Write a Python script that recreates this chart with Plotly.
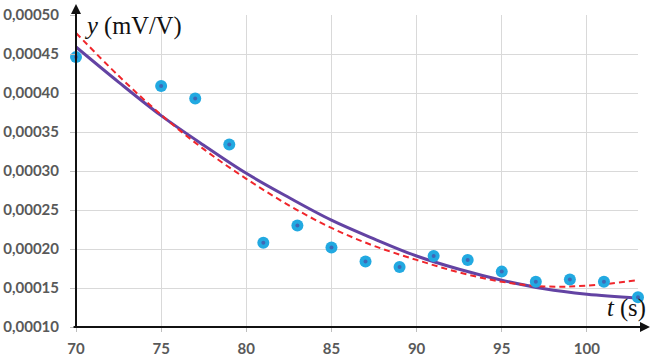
import plotly.graph_objects as go

# Measured data points
t_data = [70, 75, 77, 79, 81, 83, 85, 87, 89, 91, 93, 95, 97, 99, 101, 103]
y_data = [0.000446, 0.000409, 0.000393, 0.000334, 0.000208, 0.000230, 0.000202,
          0.000184, 0.000177, 0.000191, 0.000186, 0.000171, 0.000158, 0.000161,
          0.000158, 0.000138]

# Trend line (solid purple)
t_fit = [70, 72.5, 75, 77.5, 80, 82.5, 85, 87.5, 90, 92.5, 95, 97.5, 100, 103]
y_fit_solid = [0.000459, 0.000414, 0.000371, 0.000333, 0.000297, 0.000266, 0.000237,
               0.000213, 0.000191, 0.000174, 0.000160, 0.000149, 0.000142, 0.000137]
# Trend line (dashed red)
y_fit_dash = [0.000477, 0.000422, 0.000372, 0.000328, 0.000290, 0.000256, 0.000227,
              0.000204, 0.000186, 0.000170, 0.000158, 0.000152, 0.000153, 0.000160]

x_ticks = [70, 75, 80, 85, 90, 95, 100]
x_ticktext = ["70", "75", "80", "85", "90", "95", "100"]
y_ticks = [0.00010, 0.00015, 0.00020, 0.00025, 0.00030, 0.00035, 0.00040, 0.00045, 0.00050]
y_ticktext = ["0,00010", "0,00015", "0,00020", "0,00025", "0,00030",
              "0,00035", "0,00040", "0,00045", "0,00050"]

fig = go.Figure()
fig.add_trace(go.Scatter(x=t_fit, y=y_fit_solid, mode="lines", line_shape="spline",
                         line=dict(color="#6343a3", width=3), hoverinfo="skip"))
fig.add_trace(go.Scatter(x=t_fit, y=y_fit_dash, mode="lines", line_shape="spline",
                         line=dict(color="#f0262b", width=2, dash="6px,4px"), hoverinfo="skip"))
fig.add_trace(go.Scatter(x=t_data, y=y_data, mode="markers", cliponaxis=False,
                         marker=dict(color="#22a9e1", size=12, line=dict(width=0))))
fig.add_trace(go.Scatter(x=t_data, y=y_data, mode="markers", cliponaxis=False,
                         marker=dict(color="#3f67b5", size=4, line=dict(width=0))))

tickfont = dict(family="Lato", size=15, color="#595959", weight="bold")

fig.update_layout(
    width=651, height=357,
    margin=dict(l=76, r=13, t=15, b=30),
    paper_bgcolor="white", plot_bgcolor="white",
    showlegend=False,
    xaxis=dict(range=[70, 103], tickvals=x_ticks, ticktext=x_ticktext, automargin=False,
               showgrid=True, gridcolor="#d9d9d9", gridwidth=1,
               zeroline=False, showline=False, ticks="outside", ticklen=4,
               tickcolor="#bfbfbf", ticklabelstandoff=4, tickfont=tickfont),
    yaxis=dict(range=[0.0001, 0.0005], tickvals=y_ticks, ticktext=y_ticktext, automargin=False,
               showgrid=True, gridcolor="#d9d9d9", gridwidth=1,
               zeroline=False, showline=False, ticks="outside", ticklen=5,
               tickcolor="#bfbfbf", ticklabelstandoff=8, tickfont=tickfont),
)

# axis lines with arrows
fig.add_annotation(xref="paper", yref="paper", x=1.025, y=0, ax=-580, ay=0,
                   axref="pixel", ayref="pixel", showarrow=True, arrowhead=2,
                   arrowsize=1, arrowwidth=2, arrowcolor="#111111", text="")
fig.add_annotation(xref="paper", yref="paper", x=0, y=1.035, ax=0, ay=324,
                   axref="pixel", ayref="pixel", showarrow=True, arrowhead=2,
                   arrowsize=1, arrowwidth=2, arrowcolor="#111111", text="")

fig.add_annotation(xref="paper", yref="paper", x=0.0107, y=0.965, xanchor="left", yanchor="middle",
                   showarrow=False,
                   text="<i>y</i> (mV/V)",
                   font=dict(family="Liberation Serif", size=24.5, color="#111111"))
fig.add_annotation(xref="paper", yref="paper", x=0.941, y=0.0625, xanchor="left", yanchor="middle",
                   showarrow=False,
                   text="<i>t</i> (s)",
                   font=dict(family="Liberation Serif", size=24.5, color="#111111"))

fig.write_html("out.html")
